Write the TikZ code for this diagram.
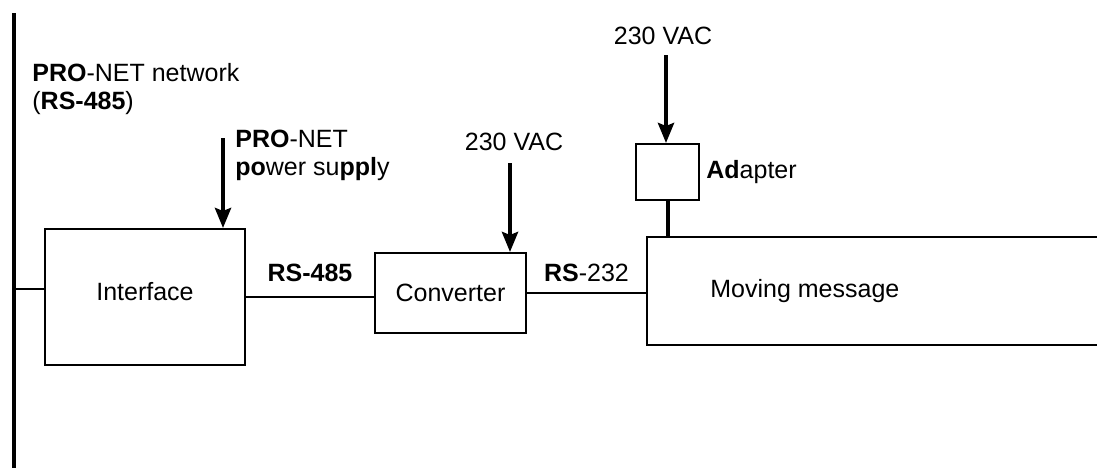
\documentclass[tikz,border=0pt]{standalone}
\usepackage{fontspec}
\setmainfont{Liberation Sans}
\usetikzlibrary{arrows.meta,positioning}

\begin{document}
\begin{tikzpicture}[
    x=0.5pt, y=-0.5pt,
    font=\fontsize{12.5}{14}\selectfont,
    box/.style={rectangle, draw, line width=1pt, inner sep=0pt},
    lbl/.style={inner sep=0pt, align=left},
    feed/.style={->, line width=2pt},
    >={Stealth[length=10pt, width=8pt, inset=1.5pt]}
  ]
  \clip (0,0) rectangle (1097,467);
  % bus
  \coordinate (bustop) at (14,13);
  \coordinate (busbot) at (14,470);
  \draw[line width=2pt] (bustop) -- (busbot);
  \node[lbl, anchor=north west] (netlbl) at (32,63) {\textbf{PRO}-NET network\\(\textbf{RS-485})};

  \node[box, minimum width=100pt, minimum height=68pt, text depth=6pt] (iface) at (145,297) {Interface};
  \node[box, minimum width=75.5pt, minimum height=40pt] (conv) at (450.5,293) {Converter};
  \node[box, minimum width=31.5pt, minimum height=28pt] (adapter) at (667.5,172) {};
  \node[box, minimum width=300pt, minimum height=54pt, anchor=west] (msg) at (646,291) {};
  \node[lbl, right=32pt of msg.west] (msglbl) {Moving message};
  \node[lbl, right=3pt of adapter] (adlbl) {\textbf{Ad}apter};

  % links
  \coordinate (tap) at (14,289);
  \draw[line width=1.2pt] (tap) -- (tap -| iface.west);
  \draw[line width=1.3pt] (iface.east) -- node[lbl, above=7pt] (rs485) {\textbf{RS-485}} (iface.east -| conv.west);
  \draw[line width=0.9pt] (conv.east) -- node[lbl, above=5pt] (rs232) {\textbf{RS}-232} (conv.east -| msg.west);
  \draw[line width=2pt] (adapter.south) -- (adapter.south |- msg.north);

  % supplies
  \coordinate (ps) at (223,138);
  \draw[feed] (ps) -- (ps |- iface.north);
  \node[lbl, anchor=north west] (pslbl) at (235,130) {\textbf{PRO}-NET\\\textbf{po}wer su\textbf{ppl}y};
  \coordinate (acconv) at (510,163);
  \draw[feed] (acconv) -- (acconv |- conv.north);
  \node[lbl, anchor=north] (aclbl1) at (514,133) {230 VAC};
  \coordinate (acad) at (666,55);
  \draw[feed] (acad) -- (acad |- adapter.north);
  \node[lbl, anchor=north] (aclbl2) at (663,27) {230 VAC};
\end{tikzpicture}
\end{document}
